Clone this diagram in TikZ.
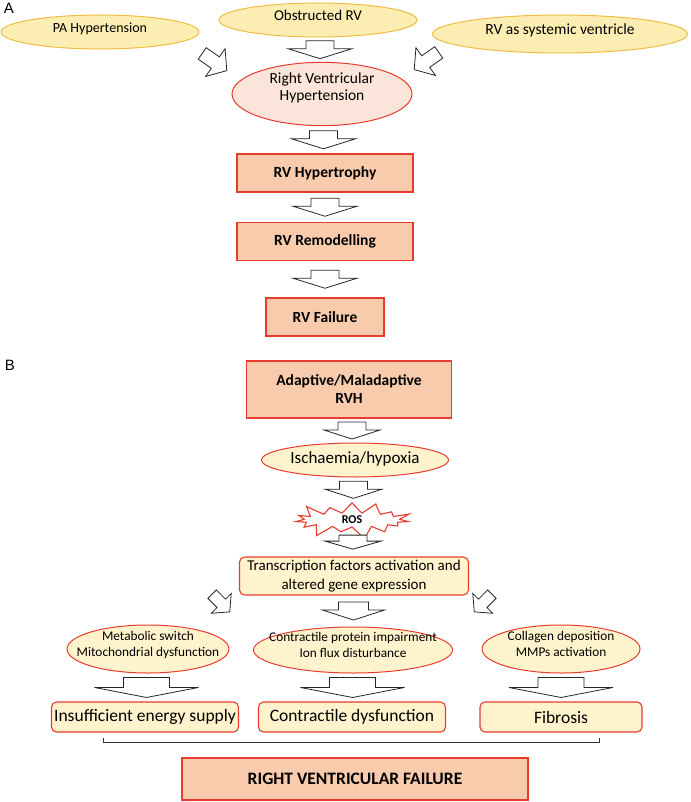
\documentclass[tikz,border=0pt]{standalone}
\usepackage{fontspec}
\setmainfont{Carlito}
\newfontfamily\panelfont{Liberation Sans}
\usetikzlibrary{shapes.geometric,shapes.symbols,calc}

\definecolor{goldline}{HTML}{F0BC45}
\definecolor{goldfill}{HTML}{FCEDB3}
\definecolor{redline}{HTML}{E63B2E}
\definecolor{peach}{HTML}{F8CBAD}
\definecolor{pinkfill}{HTML}{FBE5DA}
\definecolor{creamfill}{HTML}{FFF3CD}

\newcommand{\fsz}[2]{\fontsize{#1}{#2}\selectfont}

\tikzset{
  every node/.style={inner sep=1pt, align=center, text=black},
  panel/.style={font=\panelfont\fsz{15}{17}},
  raised/.style={text depth=#1},
  causeoval/.style={ellipse, draw=goldline, fill=goldfill, line width=1pt,
    minimum width=#1pt, minimum height=34pt, font=\fsz{14}{16}, raised=9pt},
  rvhoval/.style={ellipse, draw=redline, fill=pinkfill, line width=1pt,
    minimum width=180pt, minimum height=62pt, inner xsep=-8pt,
    font=\fsz{15.5}{17}, raised=15pt},
  stagebox/.style={rectangle, draw=redline, fill=peach, line width=1.1pt,
    minimum width=#1pt, minimum height=38pt, font=\bfseries\fsz{15.5}{18}},
  mechoval/.style={ellipse, draw=redline, fill=creamfill, line width=1pt,
    minimum width=#1pt, minimum height=48pt, inner xsep=-14pt, inner ysep=-3pt,
    font=\fsz{13.3}{16}, raised=11pt},
  factbox/.style={rectangle, rounded corners=5pt, draw=redline, fill=creamfill,
    line width=1.1pt, minimum width=#1pt, minimum height=38pt},
  bracket/.style={draw=black!80, line width=0.9pt},
  arrowline/.style={draw=black!85, fill=white, line width=0.8pt, line join=miter},
  pics/fatarrow/.style n args={4}{code={
    \draw[arrowline] (-#1,{-(#3+#4)/2}) -- (#1,{-(#3+#4)/2}) -- (#1,{(#3-#4)/2})
      -- (#2,{(#3-#4)/2}) -- (0,{(#3+#4)/2}) -- (-#2,{(#3-#4)/2})
      -- (-#1,{(#3-#4)/2}) -- cycle;
  }}
}

\begin{document}
\begin{tikzpicture}[x=1pt,y=-1pt]
\useasboundingbox (0,0) rectangle (690,802);

% panel A
\node[panel] (labA) at (9,8) {A};
\node[causeoval=198] (pa) at (100,32) {PA Hypertension};
\node[causeoval=198, font=\fsz{15}{17}] (obs) at (318,20) {Obstructed RV};
\node[causeoval=255, minimum height=38pt, font=\fsz{15.5}{17}] (sys) at (560,34) {RV as systemic ventricle};
\node[rvhoval] (rvh) at (322,94) {Right Ventricular\\Hypertension};
\node[stagebox=176] (hyp) at (325,173) {RV Hypertrophy};
\node[stagebox=176] (remod) at (325,241.5) {RV Remodelling};
\node[stagebox=118] (fail) at (325,317) {RV Failure};

\pic[rotate=55] at ($(rvh.west)+(-17,-32)$) {fatarrow={7}{17}{16}{14}};
\pic[rotate=-55] at ($(rvh.east)+(14,-33)$) {fatarrow={7}{17}{16}{14}};
\pic at ($(obs.south)!0.5!(rvh.north)$) {fatarrow={14}{32}{8}{10}};
\pic at ($(rvh.south)!0.5!(hyp.north)$) {fatarrow={14}{32}{8}{10}};
\pic at ($(hyp.south)!0.5!(remod.north)$) {fatarrow={14}{32}{8}{10}};
\pic at ($(remod.south)!0.5!(fail.north)$) {fatarrow={14}{32}{8}{10}};

% panel B
\node[panel] (labB) at (10,365) {B};
\node[stagebox=205, minimum height=57pt] (rvhB) at (349,389.5) {Adaptive/Maladaptive\\RVH};
\node[mechoval=187, minimum height=34pt, inner xsep=-10pt, font=\fsz{17}{19}, raised=4pt] (isch) at (355,460) {Ischaemia/hypoxia};
\node[starburst, draw=redline, fill=white, line width=1.1pt, minimum width=124pt,
  minimum height=40pt, starburst point height=14pt, starburst points=15,
  font=\bfseries\fsz{12}{14}] (ros) at (352,520) {ROS};
\node[factbox=229, font=\fsz{15}{19}] (tf) at (354,576)
  {Transcription factors activation and\\altered gene expression};

\pic at ($(rvhB.south)!0.5!(isch.north)$) {fatarrow={14}{28}{8}{9}};
\pic at ($(isch.south)!0.5!(ros.north)$) {fatarrow={14}{28}{8}{9}};
\pic at ($(ros.south)!0.5!(tf.north)$) {fatarrow={14}{28}{6}{8}};

\node[mechoval=162] (met) at (148,649) {Metabolic switch\\Mitochondrial dysfunction};
\node[mechoval=199, minimum height=46pt] (cpi) at (353,650) {Contractile protein impairment\\Ion flux disturbance};
\node[mechoval=158] (col) at (561,649) {Collagen deposition\\MMPs activation};

\pic[rotate=45] at ($(tf.west)+(-18,27)$) {fatarrow={6}{14}{13}{12}};
\pic[rotate=-45] at ($(tf.east)+(14,27)$) {fatarrow={6}{14}{13}{12}};
\pic at ($(tf.south)!0.5!(cpi.north)$) {fatarrow={15}{31}{8}{10}};

\node[factbox=187, minimum height=30pt, font=\fsz{17.5}{19}] (ins) at (145,717) {Insufficient energy supply};
\node[factbox=187, minimum height=30pt, font=\fsz{17.5}{19}] (cdys) at (352,717) {Contractile dysfunction};
\node[factbox=162, minimum height=30pt, font=\fsz{17.5}{19}] (fib) at (561,717) {Fibrosis};

\pic at ($(met.south)!0.5!(ins.north)$) {fatarrow={23}{52}{10}{10}};
\pic at ($(cpi.south)!0.5!(cdys.north)$) {fatarrow={23}{52}{10}{10}};
\pic at ($(col.south)!0.5!(fib.north)$) {fatarrow={23}{52}{10}{10}};

\node[stagebox=346, minimum height=42pt, font=\bfseries\fsz{17.5}{19}] (rvf) at (355,779) {RIGHT VENTRICULAR FAILURE};

\draw[bracket] ($(ins.south)+(-42,5)$) -- ++(0,5) -- ($(fib.south)+(38,10)$) -- ++(0,-5);
\draw[bracket] ($(cdys.south)+(-2,10)$) -- ($(cdys.south)+(-2,10)$ |- rvf.north);
\end{tikzpicture}
\end{document}
